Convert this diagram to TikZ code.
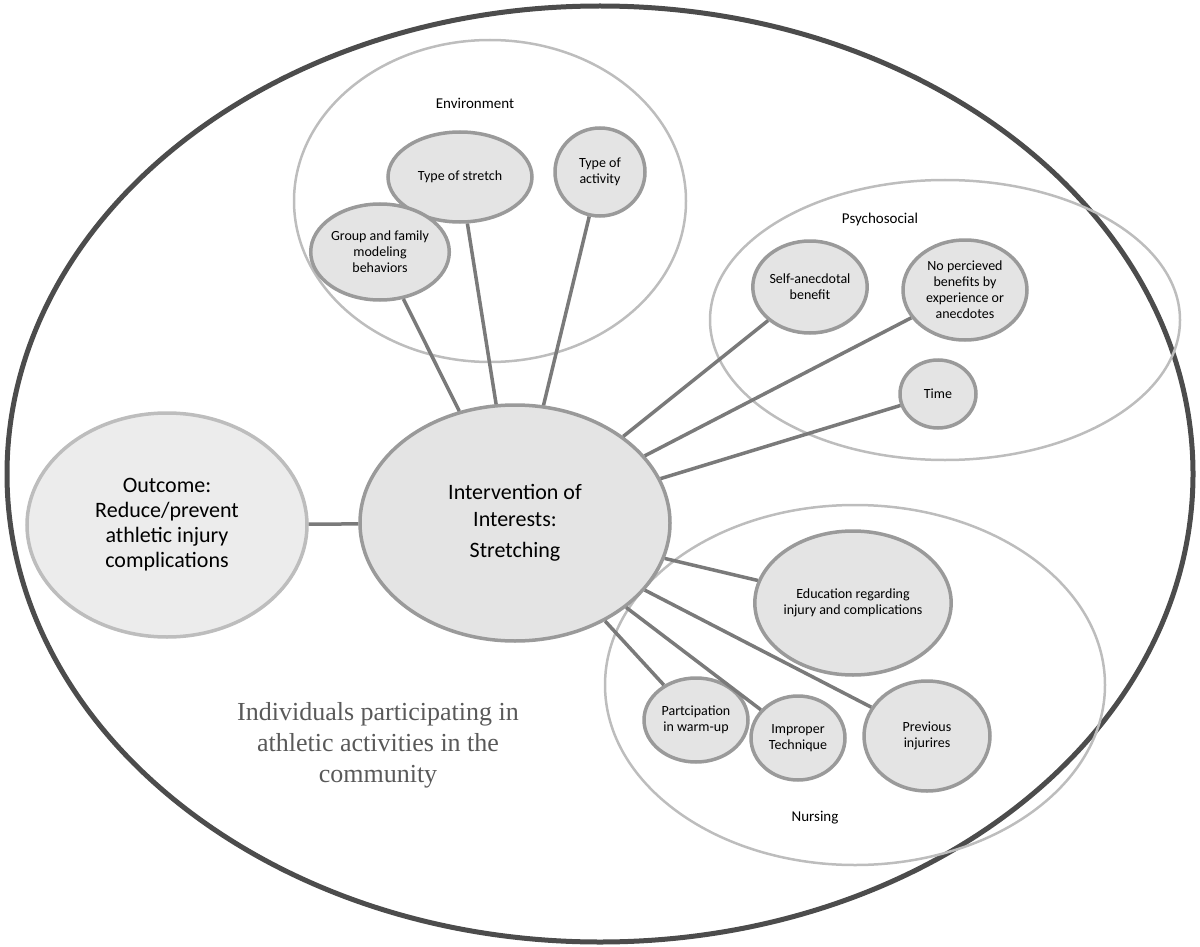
\documentclass[tikz,border=0pt]{standalone}
\usepackage{fontspec}
\setmainfont{Carlito}
\newfontfamily\serifcomm{Liberation Serif}
\usetikzlibrary{shapes.geometric}
\definecolor{bubble}{HTML}{E4E4E4}
\definecolor{rim}{HTML}{9A9A9A}
\definecolor{halo}{HTML}{BDBDBD}
\definecolor{spoke}{HTML}{7A7A7A}
\tikzset{
  topic/.style={ellipse,draw=rim,line width=3.5pt,fill=bubble,align=center,inner sep=0pt,font=\fontsize{14}{16}\selectfont},
  group/.style={ellipse,draw=halo,line width=2.5pt,inner sep=0pt},
  spokeline/.style={draw=spoke,line width=3.5pt},
}
\begin{document}
\begin{tikzpicture}[x=1pt,y=-1pt]
\useasboundingbox (0,0) rectangle (1200,947);
\node[ellipse,draw=black!70,line width=5pt,minimum width=1186pt,minimum height=936pt] (world) at (600,474) {};
% groups
\node[group,minimum width=392pt,minimum height=322pt] (env) at (490,201) {};
\node[group,minimum width=470pt,minimum height=280pt] (psy) at (945,320) {};
\node[group,minimum width=500pt,minimum height=360pt] (nur) at (855,685) {};
\node[font=\fontsize{15}{17}\selectfont] (envlabel) at (475,103) {Environment};
\node[font=\fontsize{15}{17}\selectfont] (psylabel) at (880,220) {Psychosocial};
\node[font=\fontsize{15}{17}\selectfont] (nurlabel) at (815,818) {Nursing};
% centre and outcome
\node[topic,minimum width=310pt,minimum height=236pt,font=\fontsize{22}{27}\selectfont] (hub) at (515,523) {Intervention of\\Interests:\\[4pt]Stretching};
\node[topic,draw=halo,fill=bubble!70,minimum width=280pt,minimum height=224pt,font=\fontsize{22}{25}\selectfont] (outcome) at (167,525) {Outcome:\\Reduce/prevent\\athletic injury\\complications};
% topics
\node[topic,minimum width=144pt,minimum height=90pt] (stretch) at (460,177) {Type of stretch};
\node[topic,minimum width=90pt,minimum height=88pt] (activity) at (600,172) {Type of\\activity};
\node[topic,minimum width=132pt,minimum height=96pt] (family) at (380,252) {Group and family\\modeling\\behaviors};
\node[topic,minimum width=106pt,minimum height=92pt] (anecdote) at (810,287) {Self-anecdotal\\benefit};
\node[topic,minimum width=124pt,minimum height=100pt] (nobenefit) at (965,290) {No percieved\\benefits by\\experience or\\anecdotes};
\node[topic,minimum width=76pt,minimum height=68pt] (time) at (938,394) {Time};
\node[topic,minimum width=180pt,minimum height=144pt] (education) at (853,603) {Education regarding\\injury and complications};
\node[topic,minimum width=126pt,minimum height=110pt] (previous) at (927,736) {Previous\\injurires};
\node[topic,minimum width=94pt,minimum height=84pt] (technique) at (798,738) {Improper\\Technique};
\node[topic,minimum width=104pt,minimum height=84pt] (warmup) at (696,720) {Partcipation\\in warm-up};
% spokes
\foreach \t in {stretch,activity,family,anecdote,nobenefit,time,education,previous,technique,warmup,outcome}
  \draw[spokeline] (hub) -- (\t);
\node[align=center,text=black!65,font=\serifcomm\fontsize{26}{31}\selectfont] (people) at (378,745) {Individuals participating in\\athletic activities in the\\community};
\end{tikzpicture}
\end{document}
